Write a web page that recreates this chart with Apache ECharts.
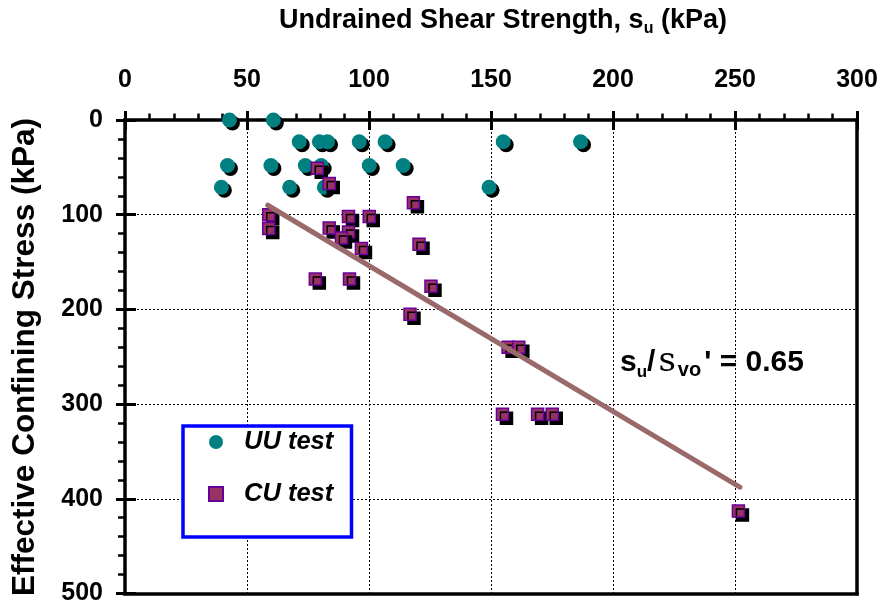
<!DOCTYPE html>
<html>
<head>
<meta charset="utf-8">
<script src="https://cdn.jsdelivr.net/npm/echarts@6/dist/echarts.min.js"></script>
<style>
  html, body { margin: 0; padding: 0; background: #fff; }
  #chart { width: 882px; height: 607px; }
</style>
</head>
<body>
<div id="chart"></div>
<script>
// Axis ticks (kPa)
const suTicks = [0, 50, 100, 150, 200, 250, 300];
const stressTicks = [0, 100, 200, 300, 400, 500];

// UU tests: undrained shear strength s_u and effective confining stress
const uuSu     = [42.8, 60.8, 71.4, 79.7, 83.0, 96.0, 106.6, 155.0, 186.7, 42.0, 59.8, 73.9, 80.4, 100.1, 114.0, 39.5, 67.5, 81.7, 149.2];
const uuStress = [0, 0, 23, 23, 23, 23, 23, 23, 23, 48, 48, 48, 48, 48, 48, 71, 71, 71, 71];

// CU tests
const cuSu     = [78.8, 83.7, 118.2, 58.9, 58.9, 91.6, 100.1, 83.7, 91.6, 88.7, 96.9, 120.5, 78.0, 92.0, 125.4, 116.8, 157.0, 161.4, 154.7, 169.1, 175.1, 251.4];
const cuStress = [51, 67, 87.5, 100, 114.7, 102, 102, 114, 118.2, 124.5, 135.7, 131.1, 168, 168, 175.5, 205, 240, 240, 310.7, 310.7, 310.7, 413];

// Trend line s_u / sigma'_vo = 0.65
const suRatio = 0.65;
const trendSu = [58.5, 252];

const FONT = 'Liberation Sans, Arial, sans-serif';

const pairs = (xs, ys) => xs.map((x, i) => [x, ys[i]]);
const trendData = trendSu.map(s => [s, s / suRatio]);

const suMin = suTicks[0], suMax = suTicks[suTicks.length - 1], suStep = suTicks[1] - suTicks[0];
const stMin = stressTicks[0], stMax = stressTicks[stressTicks.length - 1], stStep = stressTicks[1] - stressTicks[0];

const frameLine = { show: true, onZero: false, lineStyle: { color: '#000', width: 3.5, cap: 'square' } };
const dotted = { show: true, lineStyle: { color: '#000', width: 1, type: [2, 2] } };
const tickLabel = { color: '#000', fontSize: 25, fontWeight: 'bold', fontFamily: FONT };

function xAxisBase(extra) {
  return Object.assign({
    type: 'value', min: suMin, max: suMax, interval: suStep,
    axisLine: { show: false, onZero: false },
    axisTick: { show: false },
    minorTick: { show: false },
    axisLabel: { show: false },
    splitLine: { show: false }
  }, extra);
}
function yAxisBase(extra) {
  return Object.assign({
    type: 'value', min: stMin, max: stMax, interval: stStep, inverse: true,
    axisLine: { show: false, onZero: false },
    axisTick: { show: false },
    minorTick: { show: false },
    axisLabel: { show: false },
    splitLine: { show: false }
  }, extra);
}

const chart = echarts.init(document.getElementById('chart'), null, { renderer: 'canvas' });

chart.setOption({
  animation: false,
  backgroundColor: '#fff',
  grid: { left: 125, top: 120, width: 732, height: 473.5, containLabel: false, outerBoundsMode: 'none' },
  xAxis: [
    xAxisBase({
      position: 'top',
      axisLine: frameLine,
      axisTick: { show: true, inside: false, length: 9, lineStyle: { color: '#000', width: 3 } },
      minorTick: { show: true, splitNumber: 5, length: 6.5, lineStyle: { color: '#000', width: 2.5 } },
      axisLabel: Object.assign({ show: true, margin: 27 }, tickLabel),
      splitLine: dotted
    }),
    xAxisBase({
      position: 'top',
      axisTick: { show: true, inside: true, length: 10, lineStyle: { color: '#000', width: 3 } }
    }),
    xAxisBase({ position: 'bottom', axisLine: frameLine })
  ],
  yAxis: [
    yAxisBase({
      position: 'left',
      axisLine: frameLine,
      axisTick: { show: true, inside: false, length: 9, lineStyle: { color: '#000', width: 3 } },
      minorTick: { show: true, splitNumber: 5, length: 7, lineStyle: { color: '#000', width: 2.5 } },
      axisLabel: Object.assign({ show: true, margin: 22 }, tickLabel),
      splitLine: dotted
    }),
    yAxisBase({
      position: 'left',
      axisTick: { show: true, inside: true, length: 11, lineStyle: { color: '#000', width: 3 } }
    }),
    yAxisBase({ position: 'right', axisLine: frameLine })
  ],
  legend: {
    orient: 'vertical',
    left: 208,
    top: 428,
    padding: 0,
    itemWidth: 14,
    itemHeight: 14,
    itemGap: 24,
    data: ['UU test', 'CU test'],
    textStyle: {
      color: '#000', fontSize: 25.5, fontWeight: 'bold', fontStyle: 'italic',
      fontFamily: FONT, lineHeight: 28, padding: [0, 0, 0, 16]
    }
  },
  graphic: [
    {
      type: 'rect', z: 1,
      shape: { x: 183, y: 426, width: 168.5, height: 111 },
      style: { fill: '#fff', stroke: '#0000ff', lineWidth: 3.5 }
    },
    {
      type: 'text', x: 503, y: 21, z: 5,
      style: {
        text: 'Undrained Shear Strength, s{sub|u} (kPa)',
        fill: '#000', fontSize: 27, fontWeight: 'bold', fontFamily: FONT,
        align: 'center', textAlign: 'center', verticalAlign: 'middle', textVerticalAlign: 'middle',
        lineHeight: 32,
        rich: {
          sub: { fontSize: 16, fontWeight: 'bold', fontFamily: FONT, lineHeight: 16, verticalAlign: 'bottom', fill: '#000' }
        }
      }
    },
    {
      type: 'text', x: 25, y: 357, z: 5, rotation: Math.PI / 2,
      style: {
        text: 'Effective Confining Stress (kPa)',
        fill: '#000', fontSize: 31.5, fontWeight: 'bold', fontFamily: FONT,
        align: 'center', textAlign: 'center', verticalAlign: 'middle', textVerticalAlign: 'middle'
      }
    },
    {
      type: 'text', x: 620, y: 362.5, z: 5,
      style: {
        text: "{b|s}{subU|u}{b|/}{sig|s}{subV|vo}{b|' = 0.65}",
        fill: '#000', fontSize: 30, fontWeight: 'bold', fontFamily: FONT,
        align: 'left', textAlign: 'left', verticalAlign: 'middle', textVerticalAlign: 'middle',
        rich: {
          b: { fontSize: 30, fontWeight: 'bold', fontFamily: FONT, lineHeight: 36, fill: '#000' },
          subU: { fontSize: 17, fontWeight: 'bold', fontFamily: FONT, lineHeight: 19, verticalAlign: 'bottom', fill: '#000' },
          subV: { fontSize: 20, fontWeight: 'bold', fontFamily: FONT, lineHeight: 18, verticalAlign: 'bottom', fill: '#000', padding: [0, 3, 0, 0] },
          sig: { fontSize: 34, fontWeight: 'normal', fontFamily: 'DejaVu Serif, serif', lineHeight: 36, fill: '#000', padding: [0, 2, 0, 3] }
        }
      }
    }
  ],
  series: [
    {
      name: 'UU test',
      type: 'scatter',
      clip: false,
      symbol: 'circle',
      symbolSize: 15,
      data: pairs(uuSu, uuStress),
      itemStyle: { color: '#008080', opacity: 1, shadowColor: '#000', shadowBlur: 0, shadowOffsetX: 3, shadowOffsetY: 3 },
      z: 3
    },
    {
      name: 'CU test',
      type: 'scatter',
      clip: false,
      symbol: 'rect',
      symbolSize: 12,
      data: pairs(cuSu, cuStress),
      itemStyle: { color: '#993366', opacity: 1, borderColor: '#660099', borderWidth: 1.5, shadowColor: '#000', shadowBlur: 0, shadowOffsetX: 4, shadowOffsetY: 4 },
      z: 3
    },
    {
      name: 'trend',
      type: 'line',
      data: trendData,
      symbol: 'none',
      silent: true,
      lineStyle: { color: '#9a6969', width: 5, cap: 'round' },
      z: 4
    }
  ]
});
</script>
</body>
</html>
